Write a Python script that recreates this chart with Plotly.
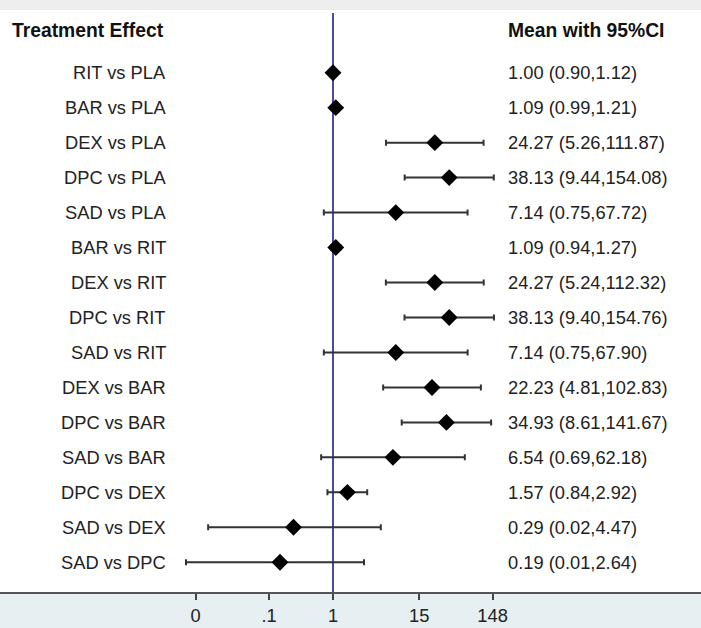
import plotly.graph_objects as go

comparisons = ["RIT vs PLA", "BAR vs PLA", "DEX vs PLA", "DPC vs PLA", "SAD vs PLA",
               "BAR vs RIT", "DEX vs RIT", "DPC vs RIT", "SAD vs RIT",
               "DEX vs BAR", "DPC vs BAR", "SAD vs BAR",
               "DPC vs DEX", "SAD vs DEX", "SAD vs DPC"]
means = [1.00, 1.09, 24.27, 38.13, 7.14, 1.09, 24.27, 38.13, 7.14, 22.23, 34.93, 6.54, 1.57, 0.29, 0.19]
lower = [0.90, 0.99, 5.26, 9.44, 0.75, 0.94, 5.24, 9.40, 0.75, 4.81, 8.61, 0.69, 0.84, 0.02, 0.01]
upper = [1.12, 1.21, 111.87, 154.08, 67.72, 1.27, 112.32, 154.76, 67.90, 102.83, 141.67, 62.18, 2.92, 4.47, 2.64]
tick_values = [0.0135, 0.135, 1, 14.9, 148.4]
tick_labels = ["0", ".1", "1", "15", "148"]

W, H = 701, 628
FONT = "Liberation Sans, Arial, sans-serif"
rows = list(range(len(comparisons)))

fig = go.Figure()
fig.add_trace(go.Scatter(
    x=means, y=rows, mode="markers",
    marker=dict(symbol="diamond", size=13, color="black"),
    error_x=dict(type="data", symmetric=False,
                 array=[u - m for u, m in zip(upper, means)],
                 arrayminus=[m - l for m, l in zip(means, lower)],
                 color="#333333", thickness=2, width=3),
    showlegend=False, hoverinfo="skip"))

annotations = []
for i, name in enumerate(comparisons):
    annotations.append(dict(x=168 / W, xref="paper", y=i, yref="y", text=name,
                            xanchor="right", yanchor="middle", showarrow=False,
                            font=dict(family=FONT, size=18.3, color="#222222")))
    annotations.append(dict(x=506 / W, xref="paper", y=i, yref="y",
                            text=f"{means[i]:.2f} ({lower[i]:.2f},{upper[i]:.2f})",
                            xanchor="left", yanchor="middle", showarrow=False,
                            font=dict(family=FONT, size=18.3, color="#222222")))
annotations.append(dict(x=10 / W, xref="paper", y=-1.22, yref="y", text="<b>Treatment Effect</b>",
                        xanchor="left", yanchor="middle", showarrow=False,
                        font=dict(family=FONT, size=19.3, color="#111111")))
annotations.append(dict(x=506 / W, xref="paper", y=-1.22, yref="y", text="<b>Mean with 95%CI</b>",
                        xanchor="left", yanchor="middle", showarrow=False,
                        font=dict(family=FONT, size=19.3, color="#111111")))

shapes = [
    dict(type="rect", xref="paper", yref="paper", x0=0, x1=1, y0=1, y1=1 + 10 / 582,
         fillcolor="#eeeeee", line=dict(width=0), layer="below"),
    dict(type="line", xref="x", yref="y", x0=1, x1=1, y0=-1.71, y1=14.85,
         line=dict(color="#4a4aa8", width=2), layer="below"),
]

px_per_dec = 73.5
fig.update_layout(
    width=W, height=H,
    margin=dict(l=0, r=0, t=10, b=36),
    paper_bgcolor="#e6eff2", plot_bgcolor="white",
    annotations=annotations, shapes=shapes,
    xaxis=dict(type="log", range=[-333 / px_per_dec, (W - 333) / px_per_dec],
               tickvals=tick_values, ticktext=tick_labels,
               showgrid=False, zeroline=False, showline=True, linecolor="#555555", linewidth=2,
               ticks="outside", ticklen=6, tickwidth=2, tickcolor="#444444",
               tickfont=dict(family=FONT, size=18.3, color="#222222")),
    yaxis=dict(range=[14.85, -1.793], showgrid=False, zeroline=False, showticklabels=False,
               showline=False),
)
fig.write_html("out.html", config={"displayModeBar": False},
               post_script="document.body.style.margin='0';document.body.style.padding='0';")
